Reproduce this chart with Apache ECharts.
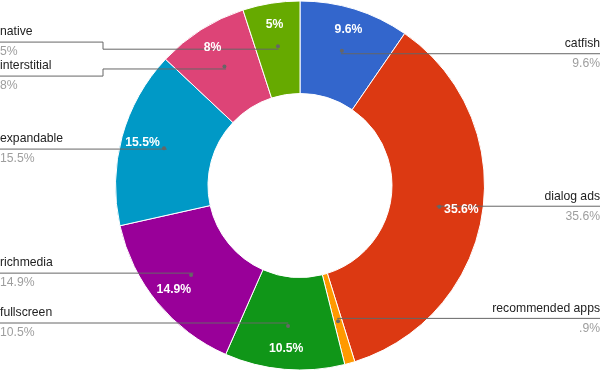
<!DOCTYPE html>
<html><head><meta charset="utf-8">
<style>html,body{margin:0;padding:0;background:#fff}#c{width:600px;height:371px}</style>
<script src="https://cdn.jsdelivr.net/npm/echarts@6/dist/echarts.min.js"></script>
</head><body><div id="c"></div>
<script>
const categories = ['catfish', 'dialog ads', 'recommended apps', 'fullscreen', 'richmedia', 'expandable', 'interstitial', 'native'];
const shares = [9.6, 35.6, 0.9, 10.5, 14.9, 15.5, 8, 5];
const colors = ['#3366cc', '#dc3912', '#ff9900', '#109618', '#990099', '#0099c6', '#dd4477', '#66aa00'];

function fmt(v) { return String(v).replace(/^0\./, '.') + '%'; }

const FONT = 'Arial, "Liberation Sans", sans-serif';
const LINE_COLOR = '#666666';
const W = 600, ELBOW = 103, GAP = 34;
const chart = echarts.init(document.getElementById('c'), null, { renderer: 'canvas' });

const anchors = {};
let resolved = null;

function leaderLayout(p) {
  const pts = p.labelLinePoints;
  if (!pts || pts.length < 3) return {};
  const p0 = pts[0];
  const side = pts[2][0] >= pts[1][0] ? 1 : -1;
  anchors[p.dataIndex] = { y: p0[1], side: side };
  const y = (resolved && resolved[p.dataIndex] != null) ? resolved[p.dataIndex] : p0[1];
  const edgeX = side > 0 ? W : 0;
  const elbowX = side > 0 ? W - ELBOW : ELBOW;
  return {
    x: edgeX, y: y, align: side > 0 ? 'right' : 'left', verticalAlign: 'middle',
    labelLinePoints: [[p0[0], p0[1]], [elbowX, p0[1]], [elbowX, y], [edgeX, y]]
  };
}

function resolve() {
  const res = {};
  [1, -1].forEach(function (side) {
    const items = Object.keys(anchors).map(Number)
      .filter(function (i) { return anchors[i].side === side; })
      .map(function (i) { return { i: i, y: anchors[i].y }; })
      .sort(function (a, b) { return a.y - b.y; });
    let clusters = items.map(function (it) { return { m: [it] }; });
    const center = function (c) { return c.m.reduce(function (s, it) { return s + it.y; }, 0) / c.m.length; };
    const first = function (c) { return center(c) - (c.m.length - 1) / 2 * GAP; };
    const last = function (c) { return center(c) + (c.m.length - 1) / 2 * GAP; };
    let changed = true;
    while (changed) {
      changed = false;
      for (let k = 0; k < clusters.length - 1; k++) {
        if (last(clusters[k]) + GAP > first(clusters[k + 1])) {
          clusters[k].m = clusters[k].m.concat(clusters[k + 1].m);
          clusters.splice(k + 1, 1);
          changed = true;
          break;
        }
      }
    }
    clusters.forEach(function (c) {
      const f = first(c);
      c.m.forEach(function (it, j) { res[it.i] = f + j * GAP; });
    });
  });
  return res;
}

function build() {
  const data = categories.map(function (c, i) { return { name: c, value: shares[i] }; });
  const clear = { color: 'rgba(0,0,0,0)' };
  return {
    animation: false,
    series: [
      {
        name: 'donut', type: 'pie', center: ['50%', '50%'], radius: [92, 184.5],
        startAngle: 90, clockwise: true, silent: true, z: 2,
        data: data.map(function (d, i) { return { name: d.name, value: d.value, itemStyle: { color: colors[i] } }; }),
        itemStyle: { borderColor: '#ffffff', borderWidth: 1 },
        label: { show: false }, labelLine: { show: false }, emphasis: { disabled: true }
      },
      {
        name: 'leaders', type: 'pie', center: ['50%', '50%'], radius: [0, 138],
        startAngle: 90, clockwise: true, silent: true, z: 3, avoidLabelOverlap: false,
        data: data, itemStyle: clear, emphasis: { disabled: true },
        label: {
          show: true, position: 'outside', fontFamily: FONT,
          formatter: function (p) { return '{n|' + p.name + '}\n{v|' + fmt(p.value) + '}'; },
          rich: {
            n: { fontSize: 12.2, fontFamily: FONT, color: '#222222', lineHeight: 20 },
            v: { fontSize: 12.2, fontFamily: FONT, color: '#9e9e9e', lineHeight: 20 }
          }
        },
        labelLine: { show: true, length: 2, length2: 6, smooth: false, lineStyle: { color: LINE_COLOR, width: 1 } },
        labelLayout: leaderLayout
      },
      {
        name: 'dots', type: 'pie', center: ['50%', '50%'], radius: [0, 276],
        startAngle: 90, clockwise: true, silent: true, z: 4, avoidLabelOverlap: false,
        data: data, itemStyle: clear, emphasis: { disabled: true },
        label: {
          show: true, position: 'inside', formatter: '{d| }',
          rich: { d: { width: 4, height: 4, lineHeight: 4, fontSize: 1, backgroundColor: LINE_COLOR, borderRadius: 2 } }
        },
        labelLine: { show: false }
      },
      {
        name: 'percent', type: 'pie', center: ['50%', '50%'], radius: [136, 184.5],
        startAngle: 90, clockwise: true, silent: true, z: 5, avoidLabelOverlap: false,
        data: data, itemStyle: clear, emphasis: { disabled: true },
        label: {
          show: true, position: 'inside', color: '#ffffff', fontWeight: 'bold', fontSize: 12.2, fontFamily: FONT,
          formatter: function (p) { return p.value < 2 ? '' : fmt(p.value); }
        },
        labelLine: { show: false }
      }
    ]
  };
}

chart.setOption(build());
resolved = resolve();
chart.setOption(build(), true);
</script>
</body></html>
